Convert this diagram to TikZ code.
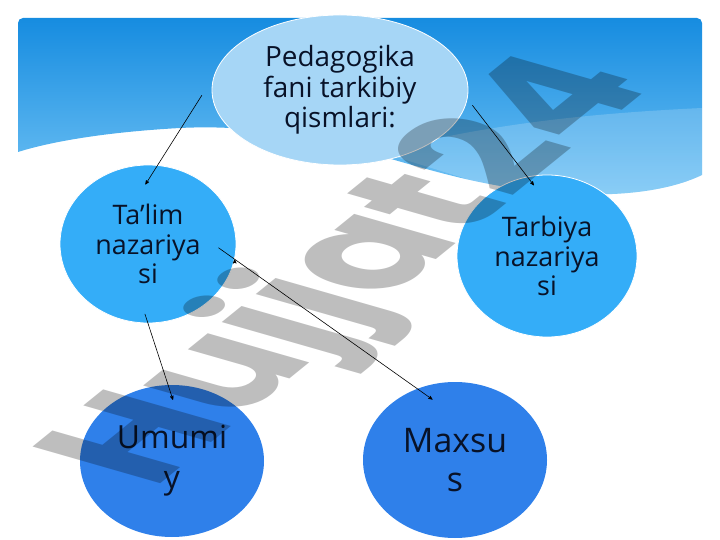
\documentclass[tikz,border=0pt]{standalone}
\usepackage{fontspec}
\setmainfont{Open Sans}
\newfontfamily\wmfont{Poppins}
\usetikzlibrary{arrows,shapes.geometric,positioning}

\definecolor{ink}{RGB}{8,18,40}
\definecolor{skytop}{RGB}{22,140,224}
\definecolor{skybot}{RGB}{115,196,245}
\definecolor{pale}{RGB}{166,214,246}
\definecolor{midblue}{RGB}{52,173,248}
\definecolor{deepblue}{RGB}{47,128,234}
\definecolor{wmgray}{RGB}{190,190,190}

\begin{document}
\begin{tikzpicture}[x=1bp,y=-1bp,>=stealth',line width=0.6pt]
  \tikzstyle{bubble}=[ellipse,draw=white,line width=0.8pt,inner sep=0pt,align=center,text=ink,
    font=\fontsize{27}{30}\selectfont]
  \tikzstyle{top bubble}=[bubble,fill=pale,minimum width=256bp,minimum height=150bp,
    font=\fontsize{28}{30.5}\selectfont]
  \tikzstyle{mid bubble}=[bubble,fill=midblue]
  \tikzstyle{low bubble}=[bubble,fill=deepblue,draw=none,font=\fontsize{32}{40}\selectfont]

  \useasboundingbox (0,0) rectangle (720,540);

  % header with wave
  \shade[top color=skytop,bottom color=skybot]
    (18,152) [rounded corners=5]-- (18,18) -- (702,18) [sharp corners]-- (702,175)
    .. controls (650,200) and (560,200) .. (470,180)
    .. controls (380,160) and (300,122) .. (180,128)
    .. controls (90,133) and (40,145) .. (18,152) -- cycle;
  \fill[white,opacity=0.18] (380,152) .. controls (500,120) and (620,112) .. (702,108)
    -- (702,175) .. controls (650,200) and (560,200) .. (470,180) -- cycle;

  \node[top bubble] (ped) at (340,90) {Pedagogika\\fani tarkibiy\\qismlari:};
  \node[mid bubble,minimum width=176bp,minimum height=158bp] (talim) at (148,244) {Ta’lim\\nazariya\\si};
  \node[mid bubble,minimum width=180bp,minimum height=162bp] (tarbiya) at (547,256) {Tarbiya\\nazariya\\si};
  \node[low bubble,minimum width=184bp,minimum height=152bp] (umumiy) at (172,461) {Umumi\\y};
  \node[low bubble,minimum width=184bp,minimum height=156bp,font=\fontsize{34}{39}\selectfont] (maxsus) at (455,460) {Maxsu\\s};

  \path[->,draw=black]
  (ped.174) edge[shorten <=22bp,shorten >=-23bp] (talim.83)
  (ped.356) edge[shorten <=8bp,shorten >=-11bp] (tarbiya.104)
  (talim.-90) edge[shorten <=-10bp,shorten >=-16bp] (umumiy.93)
  (talim.350) edge[shorten <=-20bp,shorten >=-19bp] (maxsus.118);

  % watermark
  \begin{scope}[blend mode=multiply,cm={1.166,0.944,-1.826,0.524,(356,272)}]
    \node[transform shape,text=wmgray,font=\wmfont\bfseries\fontsize{100}{100}\selectfont] (wm) {Hujjat24};
  \end{scope}
\end{tikzpicture}
\end{document}
